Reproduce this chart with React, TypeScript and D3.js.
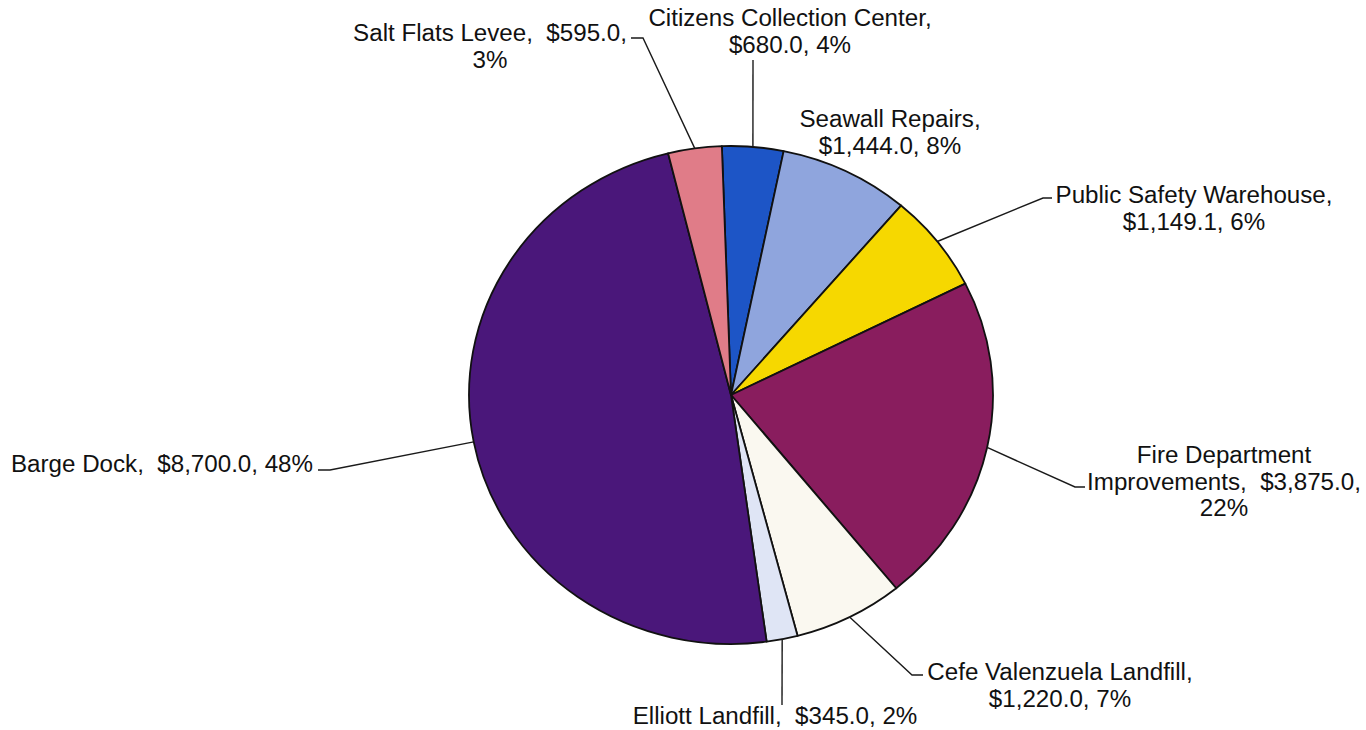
import React from "react";
import * as d3 from "d3";

const categories = [
  "Citizens Collection Center",
  "Seawall Repairs",
  "Public Safety Warehouse",
  "Fire Department Improvements",
  "Cefe Valenzuela Landfill",
  "Elliott Landfill",
  "Barge Dock",
  "Salt Flats Levee",
];
const values = [680.0, 1444.0, 1149.1, 3875.0, 1220.0, 345.0, 8700.0, 595.0];
const colors = [
  "#1d55c6",
  "#8fa5dd",
  "#f6d800",
  "#891d5e",
  "#faf8f0",
  "#dfe5f5",
  "#4a177a",
  "#e07c88",
];
const labelLines = [
  ["Citizens Collection Center,", "$680.0, 4%"],
  ["Seawall Repairs,", "$1,444.0, 8%"],
  ["Public Safety Warehouse,", "$1,149.1, 6%"],
  ["Fire Department", "Improvements,  $3,875.0,", "22%"],
  ["Cefe Valenzuela Landfill,", "$1,220.0, 7%"],
  ["Elliott Landfill,  $345.0, 2%"],
  ["Barge Dock,  $8,700.0, 48%"],
  ["Salt Flats Levee,  $595.0,", "3%"],
];

// layout (label anchor centre x, first baseline y, leader path points after the arc point)
const labelLayout = [
  { x: 790, y: 26, leader: [[753, 60]] },
  { x: 890, y: 127, leader: null },
  { x: 1194, y: 203, leader: [[1043, 198], [1052, 198]] },
  { x: 1224, y: 463, leader: [[1075, 487], [1085, 487]] },
  { x: 1060, y: 680, leader: [[912, 675], [923, 675]] },
  { x: 775, y: 724, leader: [[782, 705]] },
  { x: 162, y: 472, leader: [[330, 470], [318, 470]] },
  { x: 490, y: 41, leader: [[643, 38], [631, 38]] },
];

const W = 1366;
const H = 730;
const cx = 731;
const cy = 395;
const rx = 262;
const ry = 249;
const start = (-2 * Math.PI) / 180;
const FONT = 23;
const LINE = 26.5;

export default function App() {
  const pie = d3
    .pie<number>()
    .sort(null)
    .value((d) => d)
    .startAngle(start)
    .endAngle(start + 2 * Math.PI);
  const arcs = pie(values);
  const arc = d3.arc<d3.PieArcDatum<number>>().innerRadius(0).outerRadius(ry);
  const edge = (a: number): [number, number] => [cx + rx * Math.sin(a), cy - ry * Math.cos(a)];

  return (
    <svg
      width={W}
      height={H}
      style={{ position: "absolute", left: 0, top: 0, background: "#ffffff" }}
      fontFamily="'Liberation Sans', Arial, sans-serif"
    >
      <rect x={0} y={0} width={W} height={H} fill="#ffffff" />
      <g transform={`translate(${cx},${cy}) scale(${rx / ry},1)`}>
        {arcs.map((a, i) => (
          <path
            key={categories[i]}
            d={arc(a) || ""}
            fill={colors[i]}
            stroke="#111"
            strokeWidth={1.8}
            strokeLinejoin="round"
            vectorEffect="non-scaling-stroke"
          />
        ))}
      </g>
      {arcs.map((a, i) => {
        const lay = labelLayout[i];
        if (!lay.leader) return null;
        const mid = (a.startAngle + a.endAngle) / 2;
        const pts = [edge(mid), ...lay.leader];
        const line = d3.line();
        return (
          <path
            key={"l" + i}
            d={line(pts as [number, number][]) || ""}
            fill="none"
            stroke="#1a1a1a"
            strokeWidth={1.4}
          />
        );
      })}
      {labelLines.map((lines, i) => {
        const lay = labelLayout[i];
        return (
          <g key={"t" + i}>
            {lines.map((t, j) => (
              <text
                key={j}
                transform={`translate(${lay.x},${lay.y + j * LINE}) scale(1.05,1)`}
                textAnchor="middle"
                fontSize={FONT}
                fill="#111"
                style={{ whiteSpace: "pre" }}
              >
                {t}
              </text>
            ))}
          </g>
        );
      })}
    </svg>
  );
}
